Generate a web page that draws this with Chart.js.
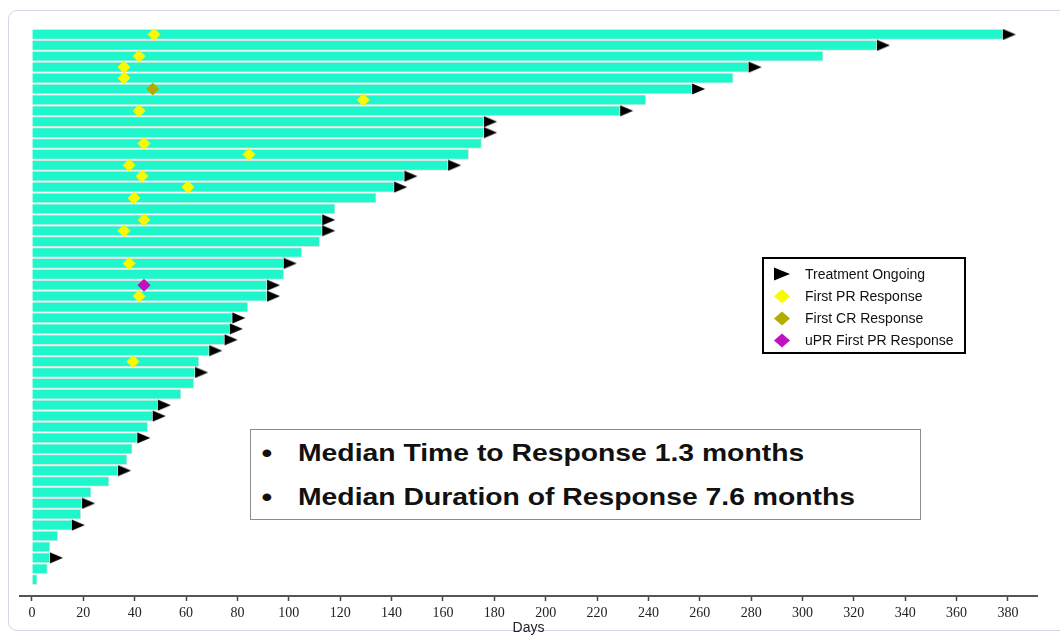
<!DOCTYPE html>
<html>
<head>
<meta charset="utf-8">
<script src="https://cdn.jsdelivr.net/npm/chart.js@4.4.1/dist/chart.umd.min.js"></script>
<style>
  html,body{margin:0;padding:0;background:#fff;}
  #wrap{position:relative;width:1060px;height:635px;overflow:hidden;}
  #frame{position:absolute;left:8px;top:10px;width:1100px;height:619px;border:1.5px solid #d6d3ea;border-radius:9px;}
  #plot{position:absolute;left:0;top:0;}
  #note{position:absolute;left:250px;top:429px;width:669px;height:89px;border:1px solid #8c8c8c;background:#fff;
        font:bold 24px "Liberation Sans",Arial,sans-serif;color:#111;}
  #note div{position:absolute;left:47px;line-height:30px;white-space:nowrap;transform:scaleX(1.18);transform-origin:left center;}
  #note div::before{content:"\2022";position:absolute;left:-31px;font-size:26px;}
</style>
</head>
<body>
<div id="wrap">
  <div id="frame"></div>
  <canvas id="plot" width="1060" height="635"></canvas>
  <div id="note">
    <div style="top:8px">Median Time to Response 1.3 months</div>
    <div style="top:52px">Median Duration of Response 7.6 months</div>
  </div>
</div>
<script>
// days on treatment, one row per patient (top to bottom)
const durationDays = [378, 329, 308, 279, 273, 257, 239, 229, 176, 176,
                      175, 170, 162, 145, 141, 134, 118, 113, 113, 112,
                      105, 98, 98, 91.5, 91.5, 84, 78, 77, 75, 69,
                      65, 63.5, 63, 58, 49, 47, 45, 41, 39, 37,
                      33.5, 30, 23, 19.5, 19, 15.5, 10, 7, 7, 6, 2];
const ongoingRows = [0,1,3,5,7,8,9,12,13,14,17,18,21,23,24,26,27,28,29,31,34,35,37,40,43,45,48];
const prRows = [0,2,3,4,6,7,10,11,12,13,14,15,17,18,21,24,30];
const prDays = [47.5,41.7,35.8,35.8,129,41.7,43.6,84.5,37.8,42.8,60.7,39.7,43.6,35.8,37.8,41.7,39.3];
const crRows = [5];
const crDays = [47];
const uprRows = [23];
const uprDays = [43.6];
const xTicks = [0,20,40,60,80,100,120,140,160,180,200,220,240,260,280,300,320,340,360,380];

// right-pointing arrow that starts at the end of the bar
function arrowImage(w,h){
  const c = document.createElement('canvas');
  c.width = w*2; c.height = h;
  const g = c.getContext('2d');
  g.fillStyle = '#000';
  g.beginPath();
  g.moveTo(w, 0.5); g.lineTo(2*w-1, h/2); g.lineTo(w, h-0.5);
  g.closePath(); g.fill();
  return c;
}
const arrow = arrowImage(14, 12);

function diamond(ctx, cx, cy, rw, rh, color){
  ctx.fillStyle = color;
  ctx.beginPath();
  ctx.moveTo(cx-rw, cy); ctx.lineTo(cx, cy-rh); ctx.lineTo(cx+rw, cy); ctx.lineTo(cx, cy+rh);
  ctx.closePath(); ctx.fill();
}

const boxLegend = {
  id: 'boxLegend',
  afterDraw(chart){
    const ctx = chart.ctx;
    const items = chart.data.datasets.filter(d=>d.inLegend);
    const x = 763, y = 258, w = 202, h = 95;
    ctx.save();
    ctx.fillStyle = '#fff';
    ctx.fillRect(x, y, w, h);
    ctx.lineWidth = 2;
    ctx.strokeStyle = '#000';
    ctx.strokeRect(x, y, w, h);
    ctx.font = '14px "Liberation Sans", Arial, sans-serif';
    ctx.textBaseline = 'middle';
    items.forEach((ds,i)=>{
      const cy = y + 16 + i*22.2;
      const cx = 782;
      if(ds.pointStyle === arrow){
        ctx.fillStyle = '#000';
        ctx.beginPath();
        ctx.moveTo(cx-8, cy-6.5); ctx.lineTo(cx+8, cy); ctx.lineTo(cx-8, cy+6.5);
        ctx.closePath(); ctx.fill();
      } else {
        diamond(ctx, cx, cy, 8, 7, ds.backgroundColor);
      }
      ctx.fillStyle = '#111';
      ctx.fillText(ds.label, 805, cy+1);
    });
    ctx.restore();
  }
};

const pts = (rows, days)=> rows.map((r,i)=>({x: days[i], y: r}));

new Chart(document.getElementById('plot').getContext('2d'), {
  type: 'bar',
  data: {
    datasets: [
      { type:'scatter', label:'Treatment Ongoing', inLegend:true, order:1,
        data: ongoingRows.map(r=>({x: durationDays[r], y: r})),
        pointStyle: arrow, pointRadius: 7, backgroundColor:'#000', borderColor:'#000' },
      { type:'scatter', label:'First PR Response', inLegend:true, order:2,
        data: pts(prRows, prDays),
        pointStyle:'rectRot', pointRadius:6, borderWidth:1, backgroundColor:'#f9f900', borderColor:'#f9f900' },
      { type:'scatter', label:'First CR Response', inLegend:true, order:2,
        data: pts(crRows, crDays),
        pointStyle:'rectRot', pointRadius:6, borderWidth:1, backgroundColor:'#b2ac00', borderColor:'#b2ac00' },
      { type:'scatter', label:'uPR First PR Response', inLegend:true, order:2,
        data: pts(uprRows, uprDays),
        pointStyle:'rectRot', pointRadius:6, borderWidth:1, backgroundColor:'#c010c0', borderColor:'#c010c0' },
      { type:'bar', label:'Duration', indexAxis:'y', order:5,
        data: durationDays.map((d,i)=>({x:d, y:i})),
        backgroundColor:'#1ef7cb', borderColor:'#d3e6e1', borderWidth:1, borderSkipped:'start',
        barThickness:10 }
    ]
  },
  options: {
    responsive: false,
    animation: false,
    layout: { padding: { left:20, right:23, top:29, bottom:0 } },
    plugins: { legend:{ display:false }, tooltip:{ enabled:false } },
    scales: {
      x: {
        type:'linear', min:-4.67, max:391.3, offset:false, grace:0,
        afterBuildTicks: s => { s.ticks = xTicks.map(v=>({value:v})); },
        afterFit: s => { s.height = 39; },
        grid: { offset:false, drawOnChartArea:false, drawTicks:true, tickLength:5, tickColor:'#444', tickWidth:1.5 },
        border: { display:true, color:'#555', width:2 },
        ticks: { color:'#222', padding:4, autoSkip:false, maxRotation:0,
                 font:{ family:'"Liberation Serif", "Times New Roman", serif', size:14 } },
        title: { display:true, text:'Days', color:'#222', padding:0,
                 font:{ family:'"Liberation Sans", Arial, sans-serif', size:14, lineHeight:1 } }
      },
      y: {
        type:'linear', reverse:true, min:-0.5, max:51.5, offset:false, grace:0, display:false,
        grid: { offset:false }
      }
    }
  },
  plugins: [boxLegend]
});
</script>
</body>
</html>
